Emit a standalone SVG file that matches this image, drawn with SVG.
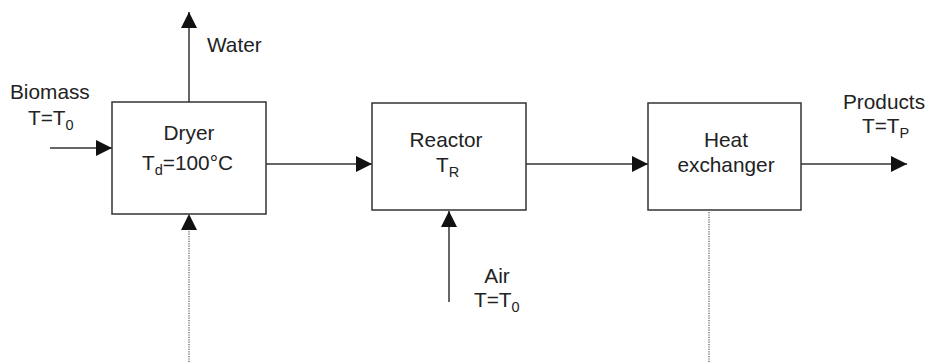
<svg xmlns="http://www.w3.org/2000/svg" width="928" height="362" viewBox="0 0 928 362">
<style>
.box{fill:#fff;stroke:#333;stroke-width:1.5}
.ln{stroke:#333;stroke-width:1.5;fill:none}
.dot{stroke:#555;stroke-width:1.2;stroke-dasharray:1.2,1.2;fill:none}
text{font-family:"Liberation Sans",Arial,sans-serif;font-size:20.8px;fill:#222}
.sub{font-size:14.5px}
</style>
<defs>
<marker id="ah" markerUnits="userSpaceOnUse" markerWidth="16" markerHeight="16" refX="16" refY="8" orient="auto">
<path d="M0,0 L16,8 L0,16 z" fill="#111"/>
</marker>
</defs>
<g id="connectors">
<line class="ln" x1="189" y1="102" x2="189" y2="12" marker-end="url(#ah)"/>
<line class="ln" x1="50" y1="148" x2="112" y2="148" marker-end="url(#ah)"/>
<line class="ln" x1="266" y1="164" x2="372" y2="164" marker-end="url(#ah)"/>
<line class="ln" x1="526" y1="164" x2="648" y2="164" marker-end="url(#ah)"/>
<line class="ln" x1="801" y1="164" x2="907" y2="164" marker-end="url(#ah)"/>
<line class="ln" x1="449" y1="302" x2="449" y2="211" marker-end="url(#ah)"/>
<line class="dot" x1="189" y1="362" x2="189" y2="226"/>
<path d="M181,230 L189,214 L197,230 z" fill="#111"/>
<line class="dot" x1="709" y1="212" x2="709" y2="362"/>
</g>
<g id="labels">
<text x="207" y="52">Water</text>
<text x="10" y="99">Biomass</text>
<text x="28" y="125">T=T<tspan class="sub" dy="5">0</tspan></text>
<text x="497" y="283" text-anchor="middle">Air</text>
<text x="474" y="307">T=T<tspan class="sub" dy="5">0</tspan></text>
<text x="884" y="109" text-anchor="middle">Products</text>
<text x="862" y="133">T=T<tspan class="sub" dy="5">P</tspan></text>
</g>
<g id="dryer">
<rect class="box" x="112" y="102" width="154" height="112"/>
<text x="189" y="140" text-anchor="middle">Dryer</text>
<text x="142" y="170">T<tspan class="sub" dy="5">d</tspan><tspan dy="-5">=100°C</tspan></text>
</g>
<g id="reactor">
<rect class="box" x="372" y="103" width="154" height="107"/>
<text x="446" y="147" text-anchor="middle">Reactor</text>
<text x="436" y="172">T<tspan class="sub" dy="5">R</tspan></text>
</g>
<g id="heat-exchanger">
<rect class="box" x="648" y="103" width="153" height="107"/>
<text x="726" y="147" text-anchor="middle">Heat</text>
<text x="726" y="172" text-anchor="middle">exchanger</text>
</g>
</svg>
